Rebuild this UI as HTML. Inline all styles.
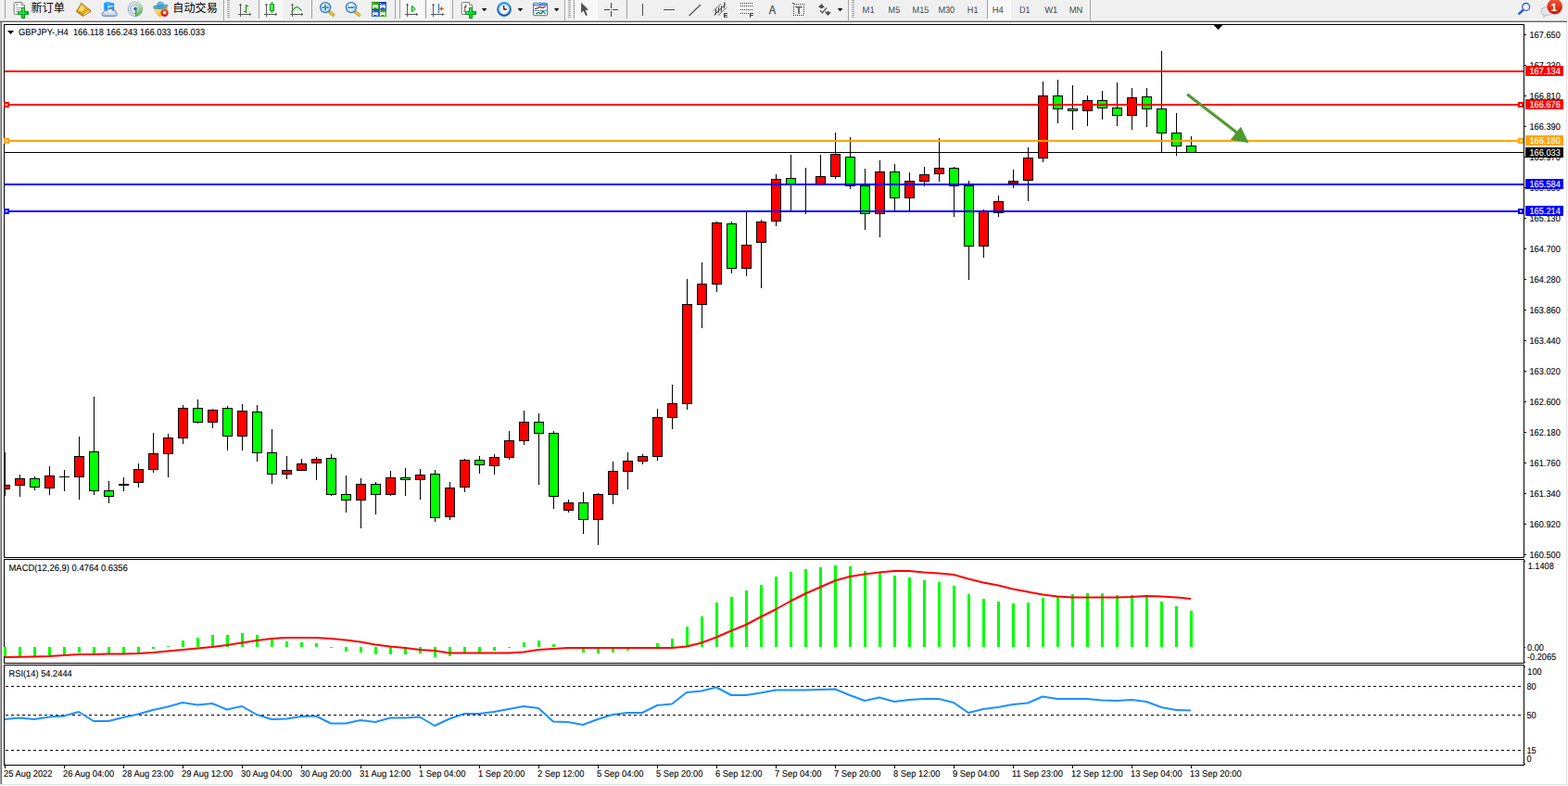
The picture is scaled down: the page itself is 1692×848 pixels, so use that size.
<!DOCTYPE html>
<html><head><meta charset="utf-8"><title>GBPJPY H4</title>
<style>html,body{margin:0;padding:0;background:#f0f0f0;overflow:hidden}svg{display:block}text{font-family:"Liberation Sans",sans-serif;white-space:pre}</style>
</head><body>
<svg width="1692" height="848" viewBox="0 0 1692 848">
<rect x="0" y="0" width="1692" height="848" fill="#f0f0f0" />
<rect x="2" y="24" width="1688" height="822" fill="#fff" />
<rect x="0" y="21" width="1690" height="1" fill="#f8f8f8" />
<rect x="0" y="22" width="1691" height="1" fill="#b4b4b4" />
<rect x="0" y="23" width="1691" height="1" fill="#6a6a6a" />
<rect x="0" y="24" width="1" height="822" fill="#a8a8a8" />
<rect x="1" y="24" width="1" height="822" fill="#696969" />
<rect x="1690" y="24" width="1" height="823" fill="#e3e3e3" />
<rect x="1691" y="22" width="1" height="826" fill="#fafafa" />
<rect x="0" y="846" width="1691" height="1" fill="#e3e3e3" />
<rect x="0" y="847" width="1692" height="1" fill="#fafafa" />
<g shape-rendering="crispEdges">
<rect x="4" y="26" width="1641" height="1" fill="#000" />
<rect x="4" y="601" width="1641" height="1" fill="#000" />
<rect x="4" y="26" width="1" height="576" fill="#000" />
<rect x="1644" y="26" width="1" height="576" fill="#000" />
<rect x="4" y="603" width="1641" height="1" fill="#000" />
<rect x="4" y="715" width="1641" height="1" fill="#000" />
<rect x="4" y="603" width="1" height="113" fill="#000" />
<rect x="1644" y="603" width="1" height="113" fill="#000" />
<rect x="4" y="717" width="1641" height="1" fill="#000" />
<rect x="4" y="825" width="1641" height="1" fill="#000" />
<rect x="4" y="717" width="1" height="109" fill="#000" />
<rect x="1644" y="717" width="1" height="109" fill="#000" />
<rect x="5" y="164" width="1639" height="1" fill="#000" />
<rect x="5" y="488" width="1" height="47" fill="#000" />
<rect x="5" y="523" width="6" height="5" fill="#000" />
<rect x="5" y="524" width="5" height="3" fill="#ff0000" />
<rect x="21" y="512" width="1" height="24" fill="#000" />
<rect x="16" y="516" width="11" height="8" fill="#000" />
<rect x="17" y="517" width="9" height="6" fill="#ff0000" />
<rect x="37" y="514" width="1" height="15" fill="#000" />
<rect x="32" y="516" width="11" height="10" fill="#000" />
<rect x="33" y="517" width="9" height="8" fill="#00ff00" />
<rect x="53" y="503" width="1" height="31" fill="#000" />
<rect x="48" y="513" width="11" height="14" fill="#000" />
<rect x="49" y="514" width="9" height="12" fill="#ff0000" />
<rect x="69" y="507" width="1" height="23" fill="#000" />
<rect x="64" y="514" width="11" height="1" fill="#000" />
<rect x="85" y="471" width="1" height="68" fill="#000" />
<rect x="80" y="492" width="11" height="23" fill="#000" />
<rect x="81" y="493" width="9" height="21" fill="#ff0000" />
<rect x="101" y="428" width="1" height="106" fill="#000" />
<rect x="96" y="487" width="11" height="43" fill="#000" />
<rect x="97" y="488" width="9" height="41" fill="#00ff00" />
<rect x="117" y="519" width="1" height="24" fill="#000" />
<rect x="112" y="529" width="11" height="7" fill="#000" />
<rect x="113" y="530" width="9" height="5" fill="#00ff00" />
<rect x="133" y="515" width="1" height="15" fill="#000" />
<rect x="128" y="522" width="11" height="2" fill="#000" />
<rect x="149" y="500" width="1" height="26" fill="#000" />
<rect x="144" y="506" width="11" height="15" fill="#000" />
<rect x="145" y="507" width="9" height="13" fill="#ff0000" />
<rect x="165" y="467" width="1" height="43" fill="#000" />
<rect x="160" y="489" width="11" height="18" fill="#000" />
<rect x="161" y="490" width="9" height="16" fill="#ff0000" />
<rect x="181" y="468" width="1" height="47" fill="#000" />
<rect x="176" y="472" width="11" height="18" fill="#000" />
<rect x="177" y="473" width="9" height="16" fill="#ff0000" />
<rect x="197" y="437" width="1" height="42" fill="#000" />
<rect x="192" y="440" width="11" height="33" fill="#000" />
<rect x="193" y="441" width="9" height="31" fill="#ff0000" />
<rect x="213" y="431" width="1" height="26" fill="#000" />
<rect x="208" y="440" width="11" height="16" fill="#000" />
<rect x="209" y="441" width="9" height="14" fill="#00ff00" />
<rect x="229" y="441" width="1" height="21" fill="#000" />
<rect x="224" y="442" width="11" height="14" fill="#000" />
<rect x="225" y="443" width="9" height="12" fill="#ff0000" />
<rect x="245" y="438" width="1" height="48" fill="#000" />
<rect x="240" y="440" width="11" height="31" fill="#000" />
<rect x="241" y="441" width="9" height="29" fill="#00ff00" />
<rect x="261" y="436" width="1" height="50" fill="#000" />
<rect x="256" y="443" width="11" height="28" fill="#000" />
<rect x="257" y="444" width="9" height="26" fill="#ff0000" />
<rect x="277" y="437" width="1" height="61" fill="#000" />
<rect x="272" y="444" width="11" height="45" fill="#000" />
<rect x="273" y="445" width="9" height="43" fill="#00ff00" />
<rect x="293" y="463" width="1" height="59" fill="#000" />
<rect x="288" y="488" width="11" height="24" fill="#000" />
<rect x="289" y="489" width="9" height="22" fill="#00ff00" />
<rect x="309" y="492" width="1" height="25" fill="#000" />
<rect x="304" y="507" width="11" height="5" fill="#000" />
<rect x="305" y="508" width="9" height="3" fill="#ff0000" />
<rect x="325" y="495" width="1" height="13" fill="#000" />
<rect x="320" y="500" width="11" height="8" fill="#000" />
<rect x="321" y="501" width="9" height="6" fill="#ff0000" />
<rect x="341" y="493" width="1" height="25" fill="#000" />
<rect x="336" y="495" width="11" height="5" fill="#000" />
<rect x="337" y="496" width="9" height="3" fill="#ff0000" />
<rect x="357" y="490" width="1" height="45" fill="#000" />
<rect x="352" y="494" width="11" height="40" fill="#000" />
<rect x="353" y="495" width="9" height="38" fill="#00ff00" />
<rect x="373" y="513" width="1" height="40" fill="#000" />
<rect x="368" y="533" width="11" height="7" fill="#000" />
<rect x="369" y="534" width="9" height="5" fill="#00ff00" />
<rect x="389" y="516" width="1" height="54" fill="#000" />
<rect x="384" y="522" width="11" height="18" fill="#000" />
<rect x="385" y="523" width="9" height="16" fill="#ff0000" />
<rect x="405" y="520" width="1" height="35" fill="#000" />
<rect x="400" y="522" width="11" height="12" fill="#000" />
<rect x="401" y="523" width="9" height="10" fill="#00ff00" />
<rect x="421" y="508" width="1" height="27" fill="#000" />
<rect x="416" y="515" width="11" height="19" fill="#000" />
<rect x="417" y="516" width="9" height="17" fill="#ff0000" />
<rect x="437" y="505" width="1" height="30" fill="#000" />
<rect x="432" y="515" width="11" height="3" fill="#000" />
<rect x="433" y="516" width="9" height="1" fill="#00ff00" />
<rect x="453" y="506" width="1" height="33" fill="#000" />
<rect x="448" y="512" width="11" height="6" fill="#000" />
<rect x="449" y="513" width="9" height="4" fill="#ff0000" />
<rect x="469" y="507" width="1" height="56" fill="#000" />
<rect x="464" y="511" width="11" height="48" fill="#000" />
<rect x="465" y="512" width="9" height="46" fill="#00ff00" />
<rect x="485" y="520" width="1" height="41" fill="#000" />
<rect x="480" y="526" width="11" height="32" fill="#000" />
<rect x="481" y="527" width="9" height="30" fill="#ff0000" />
<rect x="501" y="495" width="1" height="36" fill="#000" />
<rect x="496" y="496" width="11" height="30" fill="#000" />
<rect x="497" y="497" width="9" height="28" fill="#ff0000" />
<rect x="517" y="492" width="1" height="19" fill="#000" />
<rect x="512" y="496" width="11" height="6" fill="#000" />
<rect x="513" y="497" width="9" height="4" fill="#00ff00" />
<rect x="533" y="490" width="1" height="22" fill="#000" />
<rect x="528" y="493" width="11" height="10" fill="#000" />
<rect x="529" y="494" width="9" height="8" fill="#ff0000" />
<rect x="549" y="465" width="1" height="31" fill="#000" />
<rect x="544" y="475" width="11" height="19" fill="#000" />
<rect x="545" y="476" width="9" height="17" fill="#ff0000" />
<rect x="565" y="443" width="1" height="37" fill="#000" />
<rect x="560" y="455" width="11" height="21" fill="#000" />
<rect x="561" y="456" width="9" height="19" fill="#ff0000" />
<rect x="581" y="446" width="1" height="77" fill="#000" />
<rect x="576" y="455" width="11" height="13" fill="#000" />
<rect x="577" y="456" width="9" height="11" fill="#00ff00" />
<rect x="597" y="465" width="1" height="84" fill="#000" />
<rect x="592" y="467" width="11" height="69" fill="#000" />
<rect x="593" y="468" width="9" height="67" fill="#00ff00" />
<rect x="613" y="539" width="1" height="14" fill="#000" />
<rect x="608" y="542" width="11" height="9" fill="#000" />
<rect x="609" y="543" width="9" height="7" fill="#ff0000" />
<rect x="629" y="531" width="1" height="45" fill="#000" />
<rect x="624" y="542" width="11" height="19" fill="#000" />
<rect x="625" y="543" width="9" height="17" fill="#00ff00" />
<rect x="645" y="532" width="1" height="56" fill="#000" />
<rect x="640" y="533" width="11" height="28" fill="#000" />
<rect x="641" y="534" width="9" height="26" fill="#ff0000" />
<rect x="661" y="498" width="1" height="46" fill="#000" />
<rect x="656" y="508" width="11" height="26" fill="#000" />
<rect x="657" y="509" width="9" height="24" fill="#ff0000" />
<rect x="677" y="488" width="1" height="40" fill="#000" />
<rect x="672" y="497" width="11" height="12" fill="#000" />
<rect x="673" y="498" width="9" height="10" fill="#ff0000" />
<rect x="693" y="490" width="1" height="11" fill="#000" />
<rect x="688" y="492" width="11" height="6" fill="#000" />
<rect x="689" y="493" width="9" height="4" fill="#ff0000" />
<rect x="709" y="441" width="1" height="56" fill="#000" />
<rect x="704" y="450" width="11" height="43" fill="#000" />
<rect x="705" y="451" width="9" height="41" fill="#ff0000" />
<rect x="725" y="415" width="1" height="48" fill="#000" />
<rect x="720" y="435" width="11" height="16" fill="#000" />
<rect x="721" y="436" width="9" height="14" fill="#ff0000" />
<rect x="741" y="301" width="1" height="141" fill="#000" />
<rect x="736" y="328" width="11" height="108" fill="#000" />
<rect x="737" y="329" width="9" height="106" fill="#ff0000" />
<rect x="757" y="283" width="1" height="71" fill="#000" />
<rect x="752" y="306" width="11" height="23" fill="#000" />
<rect x="753" y="307" width="9" height="21" fill="#ff0000" />
<rect x="773" y="239" width="1" height="76" fill="#000" />
<rect x="768" y="240" width="11" height="67" fill="#000" />
<rect x="769" y="241" width="9" height="65" fill="#ff0000" />
<rect x="789" y="239" width="1" height="56" fill="#000" />
<rect x="784" y="241" width="11" height="49" fill="#000" />
<rect x="785" y="242" width="9" height="47" fill="#00ff00" />
<rect x="805" y="229" width="1" height="69" fill="#000" />
<rect x="800" y="264" width="11" height="26" fill="#000" />
<rect x="801" y="265" width="9" height="24" fill="#ff0000" />
<rect x="821" y="237" width="1" height="74" fill="#000" />
<rect x="816" y="239" width="11" height="23" fill="#000" />
<rect x="817" y="240" width="9" height="21" fill="#ff0000" />
<rect x="837" y="188" width="1" height="56" fill="#000" />
<rect x="832" y="193" width="11" height="46" fill="#000" />
<rect x="833" y="194" width="9" height="44" fill="#ff0000" />
<rect x="853" y="167" width="1" height="61" fill="#000" />
<rect x="848" y="192" width="11" height="8" fill="#000" />
<rect x="849" y="193" width="9" height="6" fill="#00ff00" />
<rect x="869" y="181" width="1" height="50" fill="#000" />
<rect x="864" y="198" width="11" height="1" fill="#000" />
<rect x="885" y="167" width="1" height="32" fill="#000" />
<rect x="880" y="190" width="11" height="10" fill="#000" />
<rect x="881" y="191" width="9" height="8" fill="#ff0000" />
<rect x="901" y="143" width="1" height="50" fill="#000" />
<rect x="896" y="166" width="11" height="25" fill="#000" />
<rect x="897" y="167" width="9" height="23" fill="#ff0000" />
<rect x="917" y="148" width="1" height="56" fill="#000" />
<rect x="912" y="169" width="11" height="32" fill="#000" />
<rect x="913" y="170" width="9" height="30" fill="#00ff00" />
<rect x="933" y="182" width="1" height="66" fill="#000" />
<rect x="928" y="200" width="11" height="31" fill="#000" />
<rect x="929" y="201" width="9" height="29" fill="#00ff00" />
<rect x="949" y="173" width="1" height="83" fill="#000" />
<rect x="944" y="185" width="11" height="46" fill="#000" />
<rect x="945" y="186" width="9" height="44" fill="#ff0000" />
<rect x="965" y="177" width="1" height="51" fill="#000" />
<rect x="960" y="185" width="11" height="29" fill="#000" />
<rect x="961" y="186" width="9" height="27" fill="#00ff00" />
<rect x="981" y="186" width="1" height="42" fill="#000" />
<rect x="976" y="195" width="11" height="19" fill="#000" />
<rect x="977" y="196" width="9" height="17" fill="#ff0000" />
<rect x="997" y="180" width="1" height="21" fill="#000" />
<rect x="992" y="188" width="11" height="8" fill="#000" />
<rect x="993" y="189" width="9" height="6" fill="#ff0000" />
<rect x="1013" y="149" width="1" height="47" fill="#000" />
<rect x="1008" y="181" width="11" height="7" fill="#000" />
<rect x="1009" y="182" width="9" height="5" fill="#ff0000" />
<rect x="1029" y="180" width="1" height="54" fill="#000" />
<rect x="1024" y="181" width="11" height="20" fill="#000" />
<rect x="1025" y="182" width="9" height="18" fill="#00ff00" />
<rect x="1045" y="195" width="1" height="107" fill="#000" />
<rect x="1040" y="200" width="11" height="66" fill="#000" />
<rect x="1041" y="201" width="9" height="64" fill="#00ff00" />
<rect x="1061" y="226" width="1" height="52" fill="#000" />
<rect x="1056" y="228" width="11" height="38" fill="#000" />
<rect x="1057" y="229" width="9" height="36" fill="#ff0000" />
<rect x="1077" y="211" width="1" height="23" fill="#000" />
<rect x="1072" y="217" width="11" height="13" fill="#000" />
<rect x="1073" y="218" width="9" height="11" fill="#ff0000" />
<rect x="1093" y="183" width="1" height="20" fill="#000" />
<rect x="1088" y="195" width="11" height="3" fill="#000" />
<rect x="1089" y="196" width="9" height="1" fill="#ff0000" />
<rect x="1109" y="159" width="1" height="58" fill="#000" />
<rect x="1104" y="170" width="11" height="25" fill="#000" />
<rect x="1105" y="171" width="9" height="23" fill="#ff0000" />
<rect x="1125" y="88" width="1" height="87" fill="#000" />
<rect x="1120" y="103" width="11" height="68" fill="#000" />
<rect x="1121" y="104" width="9" height="66" fill="#ff0000" />
<rect x="1141" y="86" width="1" height="47" fill="#000" />
<rect x="1136" y="103" width="11" height="15" fill="#000" />
<rect x="1137" y="104" width="9" height="13" fill="#00ff00" />
<rect x="1157" y="92" width="1" height="48" fill="#000" />
<rect x="1152" y="117" width="11" height="3" fill="#000" />
<rect x="1153" y="118" width="9" height="1" fill="#00ff00" />
<rect x="1173" y="103" width="1" height="33" fill="#000" />
<rect x="1168" y="108" width="11" height="12" fill="#000" />
<rect x="1169" y="109" width="9" height="10" fill="#ff0000" />
<rect x="1189" y="98" width="1" height="31" fill="#000" />
<rect x="1184" y="108" width="11" height="9" fill="#000" />
<rect x="1185" y="109" width="9" height="7" fill="#00ff00" />
<rect x="1205" y="89" width="1" height="47" fill="#000" />
<rect x="1200" y="116" width="11" height="9" fill="#000" />
<rect x="1201" y="117" width="9" height="7" fill="#00ff00" />
<rect x="1221" y="95" width="1" height="45" fill="#000" />
<rect x="1216" y="105" width="11" height="20" fill="#000" />
<rect x="1217" y="106" width="9" height="18" fill="#ff0000" />
<rect x="1237" y="95" width="1" height="42" fill="#000" />
<rect x="1232" y="104" width="11" height="14" fill="#000" />
<rect x="1233" y="105" width="9" height="12" fill="#00ff00" />
<rect x="1253" y="55" width="1" height="109" fill="#000" />
<rect x="1248" y="117" width="11" height="27" fill="#000" />
<rect x="1249" y="118" width="9" height="25" fill="#00ff00" />
<rect x="1269" y="122" width="1" height="46" fill="#000" />
<rect x="1264" y="143" width="11" height="15" fill="#000" />
<rect x="1265" y="144" width="9" height="13" fill="#00ff00" />
<rect x="1285" y="147" width="1" height="17" fill="#000" />
<rect x="1280" y="157" width="11" height="8" fill="#000" />
<rect x="1281" y="158" width="9" height="6" fill="#00ff00" />
<rect x="5" y="76" width="1639" height="2" fill="#ff0000" />
<rect x="5" y="112" width="1639" height="2" fill="#ff0000" />
<rect x="4" y="110" width="6" height="6" fill="#ff0000" />
<rect x="6" y="112" width="2" height="2" fill="#fff" />
<rect x="1638" y="110" width="6" height="6" fill="#ff0000" />
<rect x="1640" y="112" width="2" height="2" fill="#fff" />
<rect x="5" y="151" width="1639" height="2" fill="#ffa500" />
<rect x="4" y="149" width="6" height="6" fill="#ffa500" />
<rect x="6" y="151" width="2" height="2" fill="#fff" />
<rect x="1638" y="149" width="6" height="6" fill="#ffa500" />
<rect x="1640" y="151" width="2" height="2" fill="#fff" />
<rect x="5" y="198" width="1639" height="2" fill="#0000ff" />
<rect x="5" y="227" width="1639" height="2" fill="#0000ff" />
<rect x="4" y="225" width="6" height="6" fill="#0000ff" />
<rect x="6" y="227" width="2" height="2" fill="#fff" />
<rect x="1638" y="225" width="6" height="6" fill="#0000ff" />
<rect x="1640" y="227" width="2" height="2" fill="#fff" />
<path d="M1310 27h9v1h-1v1h-1v1h-1v1h-1v1h-1v-1h-1v-1h-1v-1h-1v-1h-1z" fill="#000"/>
<rect x="1645" y="37" width="2" height="1" fill="#000" />
<rect x="1645" y="70" width="2" height="1" fill="#000" />
<rect x="1645" y="103" width="2" height="1" fill="#000" />
<rect x="1645" y="136" width="2" height="1" fill="#000" />
<rect x="1645" y="169" width="2" height="1" fill="#000" />
<rect x="1645" y="202" width="2" height="1" fill="#000" />
<rect x="1645" y="235" width="2" height="1" fill="#000" />
<rect x="1645" y="268" width="2" height="1" fill="#000" />
<rect x="1645" y="301" width="2" height="1" fill="#000" />
<rect x="1645" y="334" width="2" height="1" fill="#000" />
<rect x="1645" y="367" width="2" height="1" fill="#000" />
<rect x="1645" y="400" width="2" height="1" fill="#000" />
<rect x="1645" y="433" width="2" height="1" fill="#000" />
<rect x="1645" y="466" width="2" height="1" fill="#000" />
<rect x="1645" y="499" width="2" height="1" fill="#000" />
<rect x="1645" y="532" width="2" height="1" fill="#000" />
<rect x="1645" y="565" width="2" height="1" fill="#000" />
<rect x="1645" y="598" width="2" height="1" fill="#000" />
</g>
<g fill="#4e9a2e" stroke="none"><path d="M1280.2 103 L1282 100.6 L1336.5 142.6 L1334.7 145 Z"/><path d="M1347.5 154.2 L1339 136.8 L1327.8 150.8 Z"/></g>
<g font-family="Liberation Sans, sans-serif">
<text transform="translate(1650.5 41) scale(0.92 1)" font-size="10" fill="#000" stroke="#000" stroke-width="0.1" text-rendering="geometricPrecision" >167.650</text>
<text transform="translate(1650.5 74) scale(0.92 1)" font-size="10" fill="#000" stroke="#000" stroke-width="0.1" text-rendering="geometricPrecision" >167.230</text>
<text transform="translate(1650.5 107) scale(0.92 1)" font-size="10" fill="#000" stroke="#000" stroke-width="0.1" text-rendering="geometricPrecision" >166.810</text>
<text transform="translate(1650.5 140) scale(0.92 1)" font-size="10" fill="#000" stroke="#000" stroke-width="0.1" text-rendering="geometricPrecision" >166.390</text>
<text transform="translate(1650.5 173) scale(0.92 1)" font-size="10" fill="#000" stroke="#000" stroke-width="0.1" text-rendering="geometricPrecision" >165.970</text>
<text transform="translate(1650.5 206) scale(0.92 1)" font-size="10" fill="#000" stroke="#000" stroke-width="0.1" text-rendering="geometricPrecision" >165.550</text>
<text transform="translate(1650.5 239) scale(0.92 1)" font-size="10" fill="#000" stroke="#000" stroke-width="0.1" text-rendering="geometricPrecision" >165.130</text>
<text transform="translate(1650.5 272) scale(0.92 1)" font-size="10" fill="#000" stroke="#000" stroke-width="0.1" text-rendering="geometricPrecision" >164.700</text>
<text transform="translate(1650.5 305) scale(0.92 1)" font-size="10" fill="#000" stroke="#000" stroke-width="0.1" text-rendering="geometricPrecision" >164.280</text>
<text transform="translate(1650.5 338) scale(0.92 1)" font-size="10" fill="#000" stroke="#000" stroke-width="0.1" text-rendering="geometricPrecision" >163.860</text>
<text transform="translate(1650.5 371) scale(0.92 1)" font-size="10" fill="#000" stroke="#000" stroke-width="0.1" text-rendering="geometricPrecision" >163.440</text>
<text transform="translate(1650.5 404) scale(0.92 1)" font-size="10" fill="#000" stroke="#000" stroke-width="0.1" text-rendering="geometricPrecision" >163.020</text>
<text transform="translate(1650.5 437) scale(0.92 1)" font-size="10" fill="#000" stroke="#000" stroke-width="0.1" text-rendering="geometricPrecision" >162.600</text>
<text transform="translate(1650.5 470) scale(0.92 1)" font-size="10" fill="#000" stroke="#000" stroke-width="0.1" text-rendering="geometricPrecision" >162.180</text>
<text transform="translate(1650.5 503) scale(0.92 1)" font-size="10" fill="#000" stroke="#000" stroke-width="0.1" text-rendering="geometricPrecision" >161.760</text>
<text transform="translate(1650.5 536) scale(0.92 1)" font-size="10" fill="#000" stroke="#000" stroke-width="0.1" text-rendering="geometricPrecision" >161.340</text>
<text transform="translate(1650.5 569) scale(0.92 1)" font-size="10" fill="#000" stroke="#000" stroke-width="0.1" text-rendering="geometricPrecision" >160.920</text>
<text transform="translate(1650.5 602) scale(0.92 1)" font-size="10" fill="#000" stroke="#000" stroke-width="0.1" text-rendering="geometricPrecision" >160.500</text>
<rect x="1646" y="71" width="41" height="11" fill="#ff0000" shape-rendering="crispEdges"/>
<text transform="translate(1650.5 80) scale(0.92 1)" font-size="10" fill="#fff" stroke="#fff" stroke-width="0.1" text-rendering="geometricPrecision" >167.134</text>
<rect x="1646" y="107" width="41" height="11" fill="#ff0000" shape-rendering="crispEdges"/>
<text transform="translate(1650.5 116) scale(0.92 1)" font-size="10" fill="#fff" stroke="#fff" stroke-width="0.1" text-rendering="geometricPrecision" >166.676</text>
<rect x="1646" y="146" width="41" height="11" fill="#ffa500" shape-rendering="crispEdges"/>
<text transform="translate(1650.5 155) scale(0.92 1)" font-size="10" fill="#fff" stroke="#fff" stroke-width="0.1" text-rendering="geometricPrecision" >166.180</text>
<rect x="1646" y="159" width="41" height="11" fill="#000" shape-rendering="crispEdges"/>
<text transform="translate(1650.5 168) scale(0.92 1)" font-size="10" fill="#fff" stroke="#fff" stroke-width="0.1" text-rendering="geometricPrecision" >166.033</text>
<rect x="1646" y="193" width="41" height="11" fill="#0000ff" shape-rendering="crispEdges"/>
<text transform="translate(1650.5 202) scale(0.92 1)" font-size="10" fill="#fff" stroke="#fff" stroke-width="0.1" text-rendering="geometricPrecision" >165.584</text>
<rect x="1646" y="222" width="41" height="11" fill="#0000ff" shape-rendering="crispEdges"/>
<text transform="translate(1650.5 231) scale(0.92 1)" font-size="10" fill="#fff" stroke="#fff" stroke-width="0.1" text-rendering="geometricPrecision" >165.214</text>
<path d="M8 33h7l-3.5 4z" fill="#000"/>
<text transform="translate(20 38) scale(0.935 1)" font-size="10" fill="#000" stroke="#000" stroke-width="0.1" text-rendering="geometricPrecision" >GBPJPY-,H4&#160; 166.118 166.243 166.033 166.033</text>
<text transform="translate(9.5 616) scale(0.942 1)" font-size="10" fill="#000" stroke="#000" stroke-width="0.1" text-rendering="geometricPrecision" >MACD(12,26,9) 0.4764 0.6356</text>
<text transform="translate(9.5 730) scale(0.93 1)" font-size="10" fill="#000" stroke="#000" stroke-width="0.1" text-rendering="geometricPrecision" >RSI(14) 54.2444</text>
<text transform="translate(1648.7 614) scale(0.92 1)" font-size="10" fill="#000" stroke="#000" stroke-width="0.1" text-rendering="geometricPrecision" >1.1408</text>
<text transform="translate(1648 702) scale(0.92 1)" font-size="10" fill="#000" stroke="#000" stroke-width="0.1" text-rendering="geometricPrecision" >0.00</text>
<text transform="translate(1648 712) scale(0.92 1)" font-size="10" fill="#000" stroke="#000" stroke-width="0.1" text-rendering="geometricPrecision" >-0.2065</text>
<text transform="translate(1648.3 728) scale(0.92 1)" font-size="10" fill="#000" stroke="#000" stroke-width="0.1" text-rendering="geometricPrecision" >100</text>
<text transform="translate(1647.5 744) scale(0.92 1)" font-size="10" fill="#000" stroke="#000" stroke-width="0.1" text-rendering="geometricPrecision" >80</text>
<text transform="translate(1647.5 775) scale(0.92 1)" font-size="10" fill="#000" stroke="#000" stroke-width="0.1" text-rendering="geometricPrecision" >50</text>
<text transform="translate(1647.5 813) scale(0.92 1)" font-size="10" fill="#000" stroke="#000" stroke-width="0.1" text-rendering="geometricPrecision" >15</text>
<text transform="translate(1647.5 822) scale(0.92 1)" font-size="10" fill="#000" stroke="#000" stroke-width="0.1" text-rendering="geometricPrecision" >0</text>
<text transform="translate(4 838) scale(0.935 1)" font-size="10" fill="#000" stroke="#000" stroke-width="0.1" text-rendering="geometricPrecision" >25 Aug 2022</text>
<text transform="translate(68 838) scale(0.935 1)" font-size="10" fill="#000" stroke="#000" stroke-width="0.1" text-rendering="geometricPrecision" >26 Aug 04:00</text>
<text transform="translate(132 838) scale(0.935 1)" font-size="10" fill="#000" stroke="#000" stroke-width="0.1" text-rendering="geometricPrecision" >28 Aug 23:00</text>
<text transform="translate(196 838) scale(0.935 1)" font-size="10" fill="#000" stroke="#000" stroke-width="0.1" text-rendering="geometricPrecision" >29 Aug 12:00</text>
<text transform="translate(260 838) scale(0.935 1)" font-size="10" fill="#000" stroke="#000" stroke-width="0.1" text-rendering="geometricPrecision" >30 Aug 04:00</text>
<text transform="translate(324 838) scale(0.935 1)" font-size="10" fill="#000" stroke="#000" stroke-width="0.1" text-rendering="geometricPrecision" >30 Aug 20:00</text>
<text transform="translate(388 838) scale(0.935 1)" font-size="10" fill="#000" stroke="#000" stroke-width="0.1" text-rendering="geometricPrecision" >31 Aug 12:00</text>
<text transform="translate(452 838) scale(0.935 1)" font-size="10" fill="#000" stroke="#000" stroke-width="0.1" text-rendering="geometricPrecision" >1 Sep 04:00</text>
<text transform="translate(516 838) scale(0.935 1)" font-size="10" fill="#000" stroke="#000" stroke-width="0.1" text-rendering="geometricPrecision" >1 Sep 20:00</text>
<text transform="translate(580 838) scale(0.935 1)" font-size="10" fill="#000" stroke="#000" stroke-width="0.1" text-rendering="geometricPrecision" >2 Sep 12:00</text>
<text transform="translate(644 838) scale(0.935 1)" font-size="10" fill="#000" stroke="#000" stroke-width="0.1" text-rendering="geometricPrecision" >5 Sep 04:00</text>
<text transform="translate(708 838) scale(0.935 1)" font-size="10" fill="#000" stroke="#000" stroke-width="0.1" text-rendering="geometricPrecision" >5 Sep 20:00</text>
<text transform="translate(772 838) scale(0.935 1)" font-size="10" fill="#000" stroke="#000" stroke-width="0.1" text-rendering="geometricPrecision" >6 Sep 12:00</text>
<text transform="translate(836 838) scale(0.935 1)" font-size="10" fill="#000" stroke="#000" stroke-width="0.1" text-rendering="geometricPrecision" >7 Sep 04:00</text>
<text transform="translate(900 838) scale(0.935 1)" font-size="10" fill="#000" stroke="#000" stroke-width="0.1" text-rendering="geometricPrecision" >7 Sep 20:00</text>
<text transform="translate(964 838) scale(0.935 1)" font-size="10" fill="#000" stroke="#000" stroke-width="0.1" text-rendering="geometricPrecision" >8 Sep 12:00</text>
<text transform="translate(1028 838) scale(0.935 1)" font-size="10" fill="#000" stroke="#000" stroke-width="0.1" text-rendering="geometricPrecision" >9 Sep 04:00</text>
<text transform="translate(1092 838) scale(0.935 1)" font-size="10" fill="#000" stroke="#000" stroke-width="0.1" text-rendering="geometricPrecision" >11 Sep 23:00</text>
<text transform="translate(1156 838) scale(0.935 1)" font-size="10" fill="#000" stroke="#000" stroke-width="0.1" text-rendering="geometricPrecision" >12 Sep 12:00</text>
<text transform="translate(1220 838) scale(0.935 1)" font-size="10" fill="#000" stroke="#000" stroke-width="0.1" text-rendering="geometricPrecision" >13 Sep 04:00</text>
<text transform="translate(1284 838) scale(0.935 1)" font-size="10" fill="#000" stroke="#000" stroke-width="0.1" text-rendering="geometricPrecision" >13 Sep 20:00</text>
</g>
<g shape-rendering="crispEdges">
<rect x="4" y="698" width="3" height="10" fill="#00ff00" />
<rect x="20" y="698" width="3" height="10" fill="#00ff00" />
<rect x="36" y="698" width="3" height="10" fill="#00ff00" />
<rect x="52" y="698" width="3" height="9" fill="#00ff00" />
<rect x="68" y="698" width="3" height="8" fill="#00ff00" />
<rect x="84" y="698" width="3" height="6" fill="#00ff00" />
<rect x="100" y="698" width="3" height="7" fill="#00ff00" />
<rect x="116" y="698" width="3" height="7" fill="#00ff00" />
<rect x="132" y="698" width="3" height="7" fill="#00ff00" />
<rect x="148" y="698" width="3" height="6" fill="#00ff00" />
<rect x="164" y="698" width="3" height="2" fill="#00ff00" />
<rect x="180" y="697" width="3" height="1" fill="#00ff00" />
<rect x="196" y="691" width="3" height="7" fill="#00ff00" />
<rect x="212" y="688" width="3" height="10" fill="#00ff00" />
<rect x="228" y="685" width="3" height="13" fill="#00ff00" />
<rect x="244" y="685" width="3" height="13" fill="#00ff00" />
<rect x="260" y="683" width="3" height="15" fill="#00ff00" />
<rect x="276" y="685" width="3" height="13" fill="#00ff00" />
<rect x="292" y="690" width="3" height="8" fill="#00ff00" />
<rect x="308" y="692" width="3" height="6" fill="#00ff00" />
<rect x="324" y="693" width="3" height="5" fill="#00ff00" />
<rect x="340" y="694" width="3" height="4" fill="#00ff00" />
<rect x="356" y="698" width="3" height="1" fill="#00ff00" />
<rect x="372" y="698" width="3" height="5" fill="#00ff00" />
<rect x="388" y="698" width="3" height="6" fill="#00ff00" />
<rect x="404" y="698" width="3" height="8" fill="#00ff00" />
<rect x="420" y="698" width="3" height="8" fill="#00ff00" />
<rect x="436" y="698" width="3" height="8" fill="#00ff00" />
<rect x="452" y="698" width="3" height="7" fill="#00ff00" />
<rect x="468" y="698" width="3" height="11" fill="#00ff00" />
<rect x="484" y="698" width="3" height="10" fill="#00ff00" />
<rect x="500" y="698" width="3" height="6" fill="#00ff00" />
<rect x="516" y="698" width="3" height="6" fill="#00ff00" />
<rect x="532" y="698" width="3" height="4" fill="#00ff00" />
<rect x="548" y="698" width="3" height="1" fill="#00ff00" />
<rect x="564" y="693" width="3" height="5" fill="#00ff00" />
<rect x="580" y="691" width="3" height="7" fill="#00ff00" />
<rect x="596" y="695" width="3" height="3" fill="#00ff00" />
<rect x="612" y="698" width="3" height="1" fill="#00ff00" />
<rect x="628" y="698" width="3" height="6" fill="#00ff00" />
<rect x="644" y="698" width="3" height="7" fill="#00ff00" />
<rect x="660" y="698" width="3" height="6" fill="#00ff00" />
<rect x="676" y="698" width="3" height="4" fill="#00ff00" />
<rect x="692" y="698" width="3" height="1" fill="#00ff00" />
<rect x="708" y="694" width="3" height="4" fill="#00ff00" />
<rect x="724" y="689" width="3" height="9" fill="#00ff00" />
<rect x="740" y="676" width="3" height="22" fill="#00ff00" />
<rect x="756" y="665" width="3" height="33" fill="#00ff00" />
<rect x="772" y="650" width="3" height="48" fill="#00ff00" />
<rect x="788" y="644" width="3" height="54" fill="#00ff00" />
<rect x="804" y="637" width="3" height="61" fill="#00ff00" />
<rect x="820" y="631" width="3" height="67" fill="#00ff00" />
<rect x="836" y="622" width="3" height="76" fill="#00ff00" />
<rect x="852" y="617" width="3" height="81" fill="#00ff00" />
<rect x="868" y="614" width="3" height="84" fill="#00ff00" />
<rect x="884" y="612" width="3" height="86" fill="#00ff00" />
<rect x="900" y="610" width="3" height="88" fill="#00ff00" />
<rect x="916" y="611" width="3" height="87" fill="#00ff00" />
<rect x="932" y="616" width="3" height="82" fill="#00ff00" />
<rect x="948" y="618" width="3" height="80" fill="#00ff00" />
<rect x="964" y="621" width="3" height="77" fill="#00ff00" />
<rect x="980" y="623" width="3" height="75" fill="#00ff00" />
<rect x="996" y="626" width="3" height="72" fill="#00ff00" />
<rect x="1012" y="628" width="3" height="70" fill="#00ff00" />
<rect x="1028" y="632" width="3" height="66" fill="#00ff00" />
<rect x="1044" y="641" width="3" height="57" fill="#00ff00" />
<rect x="1060" y="646" width="3" height="52" fill="#00ff00" />
<rect x="1076" y="649" width="3" height="49" fill="#00ff00" />
<rect x="1092" y="651" width="3" height="47" fill="#00ff00" />
<rect x="1108" y="650" width="3" height="48" fill="#00ff00" />
<rect x="1124" y="645" width="3" height="53" fill="#00ff00" />
<rect x="1140" y="643" width="3" height="55" fill="#00ff00" />
<rect x="1156" y="641" width="3" height="57" fill="#00ff00" />
<rect x="1172" y="640" width="3" height="58" fill="#00ff00" />
<rect x="1188" y="640" width="3" height="58" fill="#00ff00" />
<rect x="1204" y="642" width="3" height="56" fill="#00ff00" />
<rect x="1220" y="642" width="3" height="56" fill="#00ff00" />
<rect x="1236" y="644" width="3" height="54" fill="#00ff00" />
<rect x="1252" y="649" width="3" height="49" fill="#00ff00" />
<rect x="1268" y="654" width="3" height="44" fill="#00ff00" />
<rect x="1284" y="659" width="3" height="39" fill="#00ff00" />
<rect x="1645" y="605" width="1" height="1" fill="#000" />
<rect x="1645" y="698" width="1" height="1" fill="#000" />
<rect x="1645" y="714" width="1" height="1" fill="#000" />
<rect x="1645" y="719" width="1" height="1" fill="#000" />
<rect x="1645" y="824" width="1" height="1" fill="#000" />
<rect x="5" y="826" width="1" height="3" fill="#000" />
<rect x="69" y="826" width="1" height="3" fill="#000" />
<rect x="133" y="826" width="1" height="3" fill="#000" />
<rect x="197" y="826" width="1" height="3" fill="#000" />
<rect x="261" y="826" width="1" height="3" fill="#000" />
<rect x="325" y="826" width="1" height="3" fill="#000" />
<rect x="389" y="826" width="1" height="3" fill="#000" />
<rect x="453" y="826" width="1" height="3" fill="#000" />
<rect x="517" y="826" width="1" height="3" fill="#000" />
<rect x="581" y="826" width="1" height="3" fill="#000" />
<rect x="645" y="826" width="1" height="3" fill="#000" />
<rect x="709" y="826" width="1" height="3" fill="#000" />
<rect x="773" y="826" width="1" height="3" fill="#000" />
<rect x="837" y="826" width="1" height="3" fill="#000" />
<rect x="901" y="826" width="1" height="3" fill="#000" />
<rect x="965" y="826" width="1" height="3" fill="#000" />
<rect x="1029" y="826" width="1" height="3" fill="#000" />
<rect x="1093" y="826" width="1" height="3" fill="#000" />
<rect x="1157" y="826" width="1" height="3" fill="#000" />
<rect x="1221" y="826" width="1" height="3" fill="#000" />
<rect x="1285" y="826" width="1" height="3" fill="#000" />
</g>
<polyline points="5,709 21,708.7 37,708.5 53,708 69,707 85,706 101,706 117,705.5 133,705.5 149,705 165,704 181,702.5 197,701 213,699.5 229,698 245,696 261,693.5 277,691 293,689 309,688 325,688 341,688 357,689 373,690.5 389,692.5 405,695.5 421,697.5 437,699 453,701 469,702 485,704.5 501,704.5 517,704.5 533,704.5 549,704.5 565,703.5 581,701 597,700 613,699 629,699 645,699 661,699 677,699 693,699 709,699 725,699 741,697.5 757,693.5 773,687.5 789,680.5 805,674 821,665.5 837,657.5 853,648.5 869,640.5 885,633.5 901,626.5 917,622 933,619.5 949,617.5 965,616 981,616 997,617.5 1013,618.5 1029,620 1045,624.5 1061,628.5 1077,631.5 1093,635.5 1109,638.5 1125,641.5 1141,643.5 1157,644.5 1173,644.5 1189,644.5 1205,644.5 1221,644 1237,643 1253,643.5 1269,644.5 1285,646" fill="none" stroke="#ff0000" stroke-width="2" stroke-linejoin="round"/>
<line x1="6" y1="740.5" x2="1643" y2="740.5" stroke="#000" stroke-width="1" stroke-dasharray="3 3" shape-rendering="crispEdges"/>
<line x1="6" y1="771.5" x2="1643" y2="771.5" stroke="#000" stroke-width="1" stroke-dasharray="3 3" shape-rendering="crispEdges"/>
<line x1="6" y1="809.5" x2="1643" y2="809.5" stroke="#000" stroke-width="1" stroke-dasharray="3 3" shape-rendering="crispEdges"/>
<polyline points="5,776 21,774.5 37,776 53,773.5 69,772.5 85,768 101,778 117,778 133,774 149,770.5 165,766 181,762.5 197,758 213,760.5 229,759 245,765.5 261,762 277,771 293,776 309,775.5 325,773 341,772.5 357,780.5 373,780.5 389,777 405,779 421,774.5 437,774.5 453,773.5 469,783 485,775.5 501,770 517,770 533,768 549,765 565,762 581,764 597,778.5 613,779 629,782 645,776 661,771 677,769 693,769 709,761 725,759.5 741,747 757,745.5 773,741.5 789,750 805,750 821,747.5 837,744.5 853,744.5 869,744.5 885,744 901,743.5 917,750 933,756 949,752.5 965,757 981,755 997,754 1013,754 1029,758 1045,769 1061,765 1077,763 1093,760 1109,758.5 1125,751.5 1141,754 1157,754 1173,754 1189,755.5 1205,756 1221,755 1237,757 1253,763 1269,766 1285,766.5" fill="none" stroke="#1e90ff" stroke-width="2" stroke-linejoin="round"/>
<defs>
<linearGradient id="gPlus" x1="0" y1="0" x2="1" y2="1"><stop offset="0" stop-color="#7dff7d"/><stop offset="0.5" stop-color="#10e030"/><stop offset="1" stop-color="#00b818"/></linearGradient>
<linearGradient id="gGold" x1="0" y1="0" x2="1" y2="1"><stop offset="0" stop-color="#f6e27a"/><stop offset="0.5" stop-color="#eab818"/><stop offset="1" stop-color="#d09a18"/></linearGradient>
<linearGradient id="gCloud" x1="0" y1="0" x2="0" y2="1"><stop offset="0" stop-color="#ffffff"/><stop offset="1" stop-color="#b8c8e0"/></linearGradient>
<linearGradient id="gBlueBox" x1="0" y1="0" x2="1" y2="0"><stop offset="0" stop-color="#0aa0ff"/><stop offset="0.35" stop-color="#0a86f0"/><stop offset="0.36" stop-color="#3aa8ff"/><stop offset="1" stop-color="#1e90ff"/></linearGradient>
<linearGradient id="gRed" x1="0" y1="0" x2="0" y2="1"><stop offset="0" stop-color="#e85838"/><stop offset="1" stop-color="#d81400"/></linearGradient>
<linearGradient id="gYel" x1="0" y1="0" x2="1" y2="1"><stop offset="0" stop-color="#fff080"/><stop offset="1" stop-color="#e0a818"/></linearGradient>
<linearGradient id="gHat" x1="0" y1="0" x2="0" y2="1"><stop offset="0" stop-color="#7cc8f0"/><stop offset="1" stop-color="#3c98d0"/></linearGradient>
<radialGradient id="gLens" cx="0.4" cy="0.35" r="0.7"><stop offset="0" stop-color="#f0fbff"/><stop offset="1" stop-color="#b8e0f4"/></radialGradient>
<linearGradient id="gClock" x1="0" y1="0" x2="0" y2="1"><stop offset="0" stop-color="#2a98f0"/><stop offset="1" stop-color="#0858b8"/></linearGradient>
<linearGradient id="gCandle" x1="0" y1="0" x2="1" y2="0"><stop offset="0" stop-color="#90ff90"/><stop offset="1" stop-color="#20e040"/></linearGradient>
<linearGradient id="gTitle" x1="0" y1="0" x2="0" y2="1"><stop offset="0" stop-color="#6eaaea"/><stop offset="1" stop-color="#2a6cc0"/></linearGradient>
<linearGradient id="gSig" x1="0.3" y1="0" x2="0.7" y2="1"><stop offset="0" stop-color="#d4e8d4" stop-opacity="0.7"/><stop offset="0.5" stop-color="#9cd09c" stop-opacity="0.8"/><stop offset="1" stop-color="#3ca03c"/></linearGradient>
</defs>
<g shape-rendering="crispEdges">
<rect x="5" y="0" width="1" height="20" fill="#a0a0a0" />
<rect x="279" y="0" width="1" height="20" fill="#a0a0a0" />
<rect x="336" y="0" width="1" height="20" fill="#a0a0a0" />
<rect x="426" y="0" width="1" height="20" fill="#a0a0a0" />
<rect x="431" y="0" width="1" height="20" fill="#a0a0a0" />
<rect x="459" y="0" width="1" height="20" fill="#a0a0a0" />
<rect x="488" y="0" width="1" height="20" fill="#a0a0a0" />
<rect x="619" y="0" width="1" height="20" fill="#a0a0a0" />
<rect x="676" y="0" width="1" height="20" fill="#a0a0a0" />
<rect x="241" y="0" width="1" height="22" fill="#a0a0a0" />
<rect x="242" y="0" width="1" height="21" fill="#fafafa" />
<rect x="609" y="0" width="1" height="22" fill="#a0a0a0" />
<rect x="610" y="0" width="1" height="21" fill="#fafafa" />
<rect x="915" y="0" width="1" height="22" fill="#a0a0a0" />
<rect x="916" y="0" width="1" height="21" fill="#fafafa" />
<rect x="1176" y="0" width="1" height="22" fill="#a0a0a0" />
<rect x="1177" y="0" width="1" height="21" fill="#fafafa" />
<rect x="1065" y="0" width="1" height="20" fill="#a0a0a0" />
<rect x="245" y="0" width="3" height="1" fill="#a6a6a6" />
<rect x="245" y="2" width="3" height="1" fill="#a6a6a6" />
<rect x="245" y="4" width="3" height="1" fill="#a6a6a6" />
<rect x="245" y="6" width="3" height="1" fill="#a6a6a6" />
<rect x="245" y="8" width="3" height="1" fill="#a6a6a6" />
<rect x="245" y="10" width="3" height="1" fill="#a6a6a6" />
<rect x="245" y="12" width="3" height="1" fill="#a6a6a6" />
<rect x="245" y="14" width="3" height="1" fill="#a6a6a6" />
<rect x="245" y="16" width="3" height="1" fill="#a6a6a6" />
<rect x="245" y="18" width="3" height="1" fill="#a6a6a6" />
<rect x="613" y="0" width="3" height="1" fill="#a6a6a6" />
<rect x="613" y="2" width="3" height="1" fill="#a6a6a6" />
<rect x="613" y="4" width="3" height="1" fill="#a6a6a6" />
<rect x="613" y="6" width="3" height="1" fill="#a6a6a6" />
<rect x="613" y="8" width="3" height="1" fill="#a6a6a6" />
<rect x="613" y="10" width="3" height="1" fill="#a6a6a6" />
<rect x="613" y="12" width="3" height="1" fill="#a6a6a6" />
<rect x="613" y="14" width="3" height="1" fill="#a6a6a6" />
<rect x="613" y="16" width="3" height="1" fill="#a6a6a6" />
<rect x="613" y="18" width="3" height="1" fill="#a6a6a6" />
<rect x="919" y="0" width="3" height="1" fill="#a6a6a6" />
<rect x="919" y="2" width="3" height="1" fill="#a6a6a6" />
<rect x="919" y="4" width="3" height="1" fill="#a6a6a6" />
<rect x="919" y="6" width="3" height="1" fill="#a6a6a6" />
<rect x="919" y="8" width="3" height="1" fill="#a6a6a6" />
<rect x="919" y="10" width="3" height="1" fill="#a6a6a6" />
<rect x="919" y="12" width="3" height="1" fill="#a6a6a6" />
<rect x="919" y="14" width="3" height="1" fill="#a6a6a6" />
<rect x="919" y="16" width="3" height="1" fill="#a6a6a6" />
<rect x="919" y="18" width="3" height="1" fill="#a6a6a6" />
<rect x="280" y="0" width="24" height="20" fill="#f8f8f8" />
<rect x="280" y="20" width="25" height="2" fill="#fdfdfd" />
<rect x="304" y="0" width="1" height="20" fill="#fdfdfd" />
<rect x="432" y="0" width="24" height="20" fill="#f8f8f8" />
<rect x="432" y="20" width="25" height="2" fill="#fdfdfd" />
<rect x="456" y="0" width="1" height="20" fill="#fdfdfd" />
<rect x="460" y="0" width="24" height="20" fill="#f8f8f8" />
<rect x="460" y="20" width="25" height="2" fill="#fdfdfd" />
<rect x="484" y="0" width="1" height="20" fill="#fdfdfd" />
<rect x="620" y="0" width="24" height="20" fill="#f8f8f8" />
<rect x="620" y="20" width="25" height="2" fill="#fdfdfd" />
<rect x="644" y="0" width="1" height="20" fill="#fdfdfd" />
<rect x="1066" y="0" width="24" height="20" fill="#f8f8f8" />
<rect x="1066" y="20" width="25" height="2" fill="#fdfdfd" />
<rect x="1090" y="0" width="1" height="20" fill="#fdfdfd" />
</g>
<path d="M16.2 2.6 h7.3 l3 3 v9 q0 1 -1 1 h-9.3 q-1 0 -1 -1 v-11 q0 -1 1 -1z" fill="#fff" stroke="#777" stroke-width="1"/>
<path d="M23.5 2.6 v3 h3" fill="#e8e8e8" stroke="#777" stroke-width="0.8"/>
<rect x="17" y="4.3" width="2.8" height="1.3" fill="#9a9a9a" />
<rect x="17" y="8" width="8" height="0.9" fill="#a8a8a8" />
<rect x="17" y="10" width="5" height="0.9" fill="#a8a8a8" />
<rect x="17" y="12" width="2.2" height="0.9" fill="#a8a8a8" />
<path d="M23 8 h4 v4 h4 v4 h-4 v4 h-4 v-4 h-4 v-4 h4z" fill="#009a18" shape-rendering="crispEdges"/>
<path d="M24 9 h2 v4 h4 v2 h-4 v4 h-2 v-4 h-4 v-2 h4z" fill="url(#gPlus)" shape-rendering="crispEdges"/>
<text x="33.4" y="12.9" font-size="12" fill="#000" textLength="36.5" lengthAdjust="spacingAndGlyphs" style="font-family:'Liberation Sans','Noto Sans CJK SC',sans-serif">新订单</text>
<path d="M87.3 2.8 C86.6 5.4 84 9.4 82 11.8 L82.2 12.8 L89.6 17.9 L97.9 12.9 L98.3 11.3 Z" fill="#a87018"/>
<path d="M87.7 4.2 C87 6.4 85 9.4 83.5 11.2 L90.3 15.6 L96.8 11.1 Z" fill="url(#gGold)"/>
<path d="M87.4 6.2 C86.8 7.8 85.8 9.2 84.8 10.6 L88.6 12.6 L91.6 8.6 Z" fill="#fff6b0" opacity="0.55"/>
<path d="M90.3 15.6 L96.8 11.1 L96.9 12.4 L90 16.9 Z" fill="#efe6c0"/>
<path d="M83.5 11.2 L90.3 15.6 L90 16.9 L83 12.3 Z" fill="#d49a1c"/>
<path d="M112.3 3.2 L116 2.1 L123.2 3.6 L123.2 11 L112.3 11 Z" fill="url(#gBlueBox)"/>
<path d="M112.3 3.2 L116.2 4.6 L123.2 3.6 L116 2.1Z" fill="#2cb0ff"/>
<path d="M116.2 4.6 V11" stroke="#e8f4ff" stroke-width="0.8" fill="none"/>
<path d="M116.9 6.8 L122 5.8 V7 L116.9 8Z" fill="#f4faff"/>
<path d="M112.2 17.3 C109.4 17.3 109.4 13.4 112 13.2 C111.8 11 114.6 10.6 115.6 12 C116.2 8.8 121 8.6 121.6 11.4 C123.4 10.2 125.6 11.6 124.8 13.4 C127 13.8 126.8 17.3 124.2 17.3 Z" fill="url(#gCloud)" stroke="#4868a8" stroke-width="0.9"/>
<path d="M146 9.8 L146 17.8 A8 8 0 1 0 143.26 2.28 Z" fill="url(#gSig)" opacity="0.9"/>
<path d="M146 14.8 A5 5 0 0 1 144.29 5.10" fill="none" stroke="#4070d8" stroke-width="1" opacity="0.75"/>
<path d="M146 14.8 A5 5 0 1 0 144.29 5.10" fill="none" stroke="#5c9c6c" stroke-width="0.9" opacity="0.45"/>
<path d="M146 17.5 A7.7 7.7 0 0 1 143.37 2.56" fill="none" stroke="#4070d8" stroke-width="1" opacity="0.6"/>
<path d="M146 17.5 A7.7 7.7 0 1 0 143.37 2.56" fill="none" stroke="#5c9c6c" stroke-width="0.9" opacity="0.45"/>
<circle cx="146" cy="9.600000000000001" r="1.8" fill="#2858d0"/>
<rect x="146" y="9.8" width="1.2" height="8" fill="#28a828" />
<path d="M165.8 9.2 L181 8.4 L173.2 17.8 L171.4 17.2 Z" fill="url(#gYel)" stroke="#c89818" stroke-width="0.6"/>
<path d="M165.6 7.4 C166.4 5.4 169 6.4 173 6.2 C177 6 179.6 4.2 181 5.6 C181.4 7.6 177.6 9.4 173.4 9.4 C169.4 9.4 165.4 9.2 165.6 7.4 Z" fill="url(#gHat)" stroke="#2888b8" stroke-width="0.7"/>
<path d="M169.4 6.8 C169.2 0.6 176.8 0.6 176.8 6.2 C175 7.2 171 7.4 169.4 6.8 Z" fill="url(#gHat)" stroke="#2888b8" stroke-width="0.7"/>
<circle cx="177.6" cy="13.7" r="4.2" fill="url(#gRed)"/>
<rect x="176.1" y="12.2" width="3" height="3" fill="#fff" />
<text x="186.3" y="12.9" font-size="12" fill="#000" textLength="48.6" lengthAdjust="spacingAndGlyphs" style="font-family:'Liberation Sans','Noto Sans CJK SC',sans-serif">自动交易</text>
<g fill="#5a5a5a" shape-rendering="crispEdges">
<rect x="259" y="4" width="1" height="14" fill="#5a5a5a" />
<rect x="257" y="15" width="14" height="1" fill="#5a5a5a" />
</g>
<path d="M257.8 5.8 L259.5 3.7 L261.2 5.8 Z M269.2 13.8 L271.3 15.5 L269.2 17.2 Z" fill="#5a5a5a"/>
<g shape-rendering="crispEdges">
<rect x="265" y="5" width="1" height="9" fill="#009000" />
<rect x="266" y="6" width="2" height="1" fill="#009000" />
<rect x="263" y="12" width="2" height="1" fill="#009000" />
</g>
<g fill="#5a5a5a" shape-rendering="crispEdges">
<rect x="287" y="4" width="1" height="14" fill="#5a5a5a" />
<rect x="285" y="15" width="14" height="1" fill="#5a5a5a" />
</g>
<path d="M285.8 5.8 L287.5 3.7 L289.2 5.8 Z M297.2 13.8 L299.3 15.5 L297.2 17.2 Z" fill="#5a5a5a"/>
<rect x="293" y="2" width="1" height="12" fill="#00a000" shape-rendering="crispEdges"/>
<rect x="291.5" y="4.5" width="4" height="7" fill="url(#gCandle)" stroke="#00a000" stroke-width="1"/>
<g fill="#5a5a5a" shape-rendering="crispEdges">
<rect x="315" y="4" width="1" height="14" fill="#5a5a5a" />
<rect x="313" y="15" width="14" height="1" fill="#5a5a5a" />
</g>
<path d="M313.8 5.8 L315.5 3.7 L317.2 5.8 Z M325.2 13.8 L327.3 15.5 L325.2 17.2 Z" fill="#5a5a5a"/>
<path d="M314.2 12.8 C316.5 11.5 318 7.4 320.3 7.4 C322.2 7.4 323.4 10.6 325.8 11.3" fill="none" stroke="#2ca02c" stroke-width="1.2"/>
<path d="M355.1 12.4 L360.70000000000005 17" stroke="#b07a10" stroke-width="3.2" stroke-linecap="butt"/>
<path d="M355.5 12.7 L360.3 16.7" stroke="#f0d840" stroke-width="1.7" stroke-linecap="butt"/>
<circle cx="351.1" cy="8.1" r="5.5" fill="url(#gLens)" stroke="#3478c8" stroke-width="1.4"/>
<rect x="347.5" y="7.1" width="7.2" height="1.9" fill="#4a92ba" />
<rect x="350.1" y="4.6" width="2" height="6.9" fill="#4a92ba" />
<path d="M382.9 12.4 L388.5 17" stroke="#b07a10" stroke-width="3.2" stroke-linecap="butt"/>
<path d="M383.29999999999995 12.7 L388.09999999999997 16.7" stroke="#f0d840" stroke-width="1.7" stroke-linecap="butt"/>
<circle cx="378.9" cy="8.1" r="5.5" fill="url(#gLens)" stroke="#3478c8" stroke-width="1.4"/>
<rect x="375.29999999999995" y="7.1" width="7.2" height="1.9" fill="#4a92ba" />
<rect x="401" y="2" width="8" height="8" fill="#3aa018" />
<rect x="401" y="2" width="8" height="1.2" fill="#2c8a10" />
<rect x="402" y="3.2" width="0.9" height="0.9" fill="#fff" />
<path d="M402.1 5.3 h5.7 v3.9 h-1.2 v-1.1 h-3.3 v1.1 h-1.2z" fill="#fff"/>
<rect x="403.1" y="6.2" width="3.7" height="0.8" fill="#3aa018" opacity="0.4"/>
<rect x="409" y="2" width="8" height="8" fill="#2458d8" />
<rect x="409" y="2" width="8" height="1.2" fill="#1840b8" />
<rect x="410" y="3.2" width="0.9" height="0.9" fill="#fff" />
<path d="M410.1 5.3 h5.7 v3.9 h-1.2 v-1.1 h-3.3 v1.1 h-1.2z" fill="#fff"/>
<rect x="411.1" y="6.2" width="3.7" height="0.8" fill="#2458d8" opacity="0.4"/>
<rect x="401" y="10" width="8" height="8" fill="#2458d8" />
<rect x="401" y="10" width="8" height="1.2" fill="#1840b8" />
<rect x="402" y="11.2" width="0.9" height="0.9" fill="#fff" />
<path d="M402.1 13.3 h5.7 v3.9 h-1.2 v-1.1 h-3.3 v1.1 h-1.2z" fill="#fff"/>
<rect x="403.1" y="14.2" width="3.7" height="0.8" fill="#2458d8" opacity="0.4"/>
<rect x="409" y="10" width="8" height="8" fill="#3aa018" />
<rect x="409" y="10" width="8" height="1.2" fill="#2c8a10" />
<rect x="410" y="11.2" width="0.9" height="0.9" fill="#fff" />
<path d="M410.1 13.3 h5.7 v3.9 h-1.2 v-1.1 h-3.3 v1.1 h-1.2z" fill="#fff"/>
<rect x="411.1" y="14.2" width="3.7" height="0.8" fill="#3aa018" opacity="0.4"/>
<g fill="#5a5a5a" shape-rendering="crispEdges">
<rect x="439" y="4" width="1" height="14" fill="#5a5a5a" />
<rect x="437" y="15" width="14" height="1" fill="#5a5a5a" />
</g>
<path d="M437.8 5.8 L439.5 3.7 L441.2 5.8 Z M449.2 13.8 L451.3 15.5 L449.2 17.2 Z" fill="#5a5a5a"/>
<path d="M444.3 6.2 L444.3 12.9 L448.2 9.5 Z" fill="#70f090" stroke="#00a000" stroke-width="1" stroke-linejoin="round"/>
<g fill="#5a5a5a" shape-rendering="crispEdges">
<rect x="467" y="4" width="1" height="14" fill="#5a5a5a" />
<rect x="465" y="15" width="14" height="1" fill="#5a5a5a" />
</g>
<path d="M465.8 5.8 L467.5 3.7 L469.2 5.8 Z M477.2 13.8 L479.3 15.5 L477.2 17.2 Z" fill="#5a5a5a"/>
<rect x="473" y="4" width="1" height="10" fill="#1070b0" shape-rendering="crispEdges"/>
<path d="M474.3 9.5 L477 7 L477 9 L479.2 9 L479.2 10 L477 10 L477 12 Z" fill="#e05000"/>
<path d="M499.2 2.6 h7.3 l3 3 v9 q0 1 -1 1 h-9.3 q-1 0 -1 -1 v-11 q0 -1 1 -1z" fill="#fff" stroke="#777" stroke-width="1"/>
<path d="M506.5 2.6 v3 h3" fill="#e8e8e8" stroke="#777" stroke-width="0.8"/>
<text x="500.3" y="12.6" font-size="10" font-style="italic" font-family="Liberation Serif, serif" fill="#403828">f</text>
<path d="M506 8 h4 v4 h4 v4 h-4 v4 h-4 v-4 h-4 v-4 h4z" fill="#009a18" shape-rendering="crispEdges"/>
<path d="M507 9 h2 v4 h4 v2 h-4 v4 h-2 v-4 h-4 v-2 h4z" fill="url(#gPlus)" shape-rendering="crispEdges"/>
<path d="M519.8 9 h5.6 l-2.8 3.2z" fill="#000"/>
<circle cx="544" cy="10" r="6.8" fill="#f4f4f4" stroke="url(#gClock)" stroke-width="2.2"/>
<path d="M543.5 6.2 L544 10.2 L546.8 9.8" fill="none" stroke="#202020" stroke-width="1.35"/>
<circle cx="544.00" cy="5.40" r="0.45" fill="#707070"/>
<circle cx="546.30" cy="6.02" r="0.45" fill="#707070"/>
<circle cx="547.98" cy="7.70" r="0.45" fill="#707070"/>
<circle cx="548.60" cy="10.00" r="0.45" fill="#707070"/>
<circle cx="547.98" cy="12.30" r="0.45" fill="#707070"/>
<circle cx="546.30" cy="13.98" r="0.45" fill="#707070"/>
<circle cx="544.00" cy="14.60" r="0.45" fill="#707070"/>
<circle cx="541.70" cy="13.98" r="0.45" fill="#707070"/>
<circle cx="540.02" cy="12.30" r="0.45" fill="#707070"/>
<circle cx="539.40" cy="10.00" r="0.45" fill="#707070"/>
<circle cx="540.02" cy="7.70" r="0.45" fill="#707070"/>
<circle cx="541.70" cy="6.02" r="0.45" fill="#707070"/>
<path d="M558.7 9 h5.6 l-2.8 3.2z" fill="#000"/>
<rect x="575.5" y="3.3" width="15" height="13.4" rx="0.8" fill="#fff" stroke="#3478c8" stroke-width="1"/>
<rect x="576" y="3.8" width="14" height="2.4" fill="url(#gTitle)" />
<rect x="576.6" y="4.2" width="5" height="0.8" fill="#d8ecff" />
<rect x="576" y="11" width="14" height="1" fill="#5a94d4" />
<path d="M577 9.4 h1.8 l1.4 -1 h1 l1 -1 h1 l1 1 h2 l1.2 -1 h1.2" fill="none" stroke="#a02c0c" stroke-width="1.25"/>
<path d="M578 14.5 h1.4 l1.2 -1 h1 l1 1 h1.2 l2 -2.2 l1 0.6 l1.6 2" fill="none" stroke="#0c7c2c" stroke-width="1.25"/>
<path d="M597.8 9 h5.6 l-2.8 3.2z" fill="#000"/>
<path d="M627.1 2.8 L627.1 14 L629.7 11.6 L632 17 L633.9 16.2 L631.6 10.9 L635 10.5 Z" fill="#505050"/>
<g shape-rendering="crispEdges">
<rect x="659" y="3" width="1" height="6" fill="#404040" />
<rect x="659" y="12" width="1" height="6" fill="#404040" />
<rect x="652" y="10" width="6" height="1" fill="#404040" />
<rect x="661" y="10" width="6" height="1" fill="#404040" />
<rect x="659" y="10" width="1" height="1" fill="#707050" />
<rect x="693" y="4" width="1" height="13" fill="#484848" />
<rect x="716" y="10" width="12" height="1" fill="#484848" />
</g>
<path d="M743.6 17 L756 5" stroke="#484848" stroke-width="1.1"/>
<g stroke="#404040" fill="none"><path d="M769.6 11.7 L777.9 4" stroke-width="0.75"/><path d="M770.4 16.4 L783.2 4.3" stroke-width="0.9"/><path d="M774.9 16.8 L784.3 7.9" stroke-width="0.75"/>
<path d="M772.1 16.2 L772.7 9.8 M775.1 14.2 L775.7 7.8 M778.1 12.6 L778.7 6.2 M781.4 8.8 L782 2.2" stroke-width="1.15"/></g>
<path d="M781 14 h4 v1 h-2.8 v0.9 h2.4 v1 h-2.4 v0.9 h2.9 v1 h-4.1z" fill="#404040"/>
<g shape-rendering="crispEdges">
<rect x="799" y="3" width="1" height="1" fill="#404040" />
<rect x="801" y="3" width="1" height="1" fill="#404040" />
<rect x="803" y="3" width="1" height="1" fill="#404040" />
<rect x="805" y="3" width="1" height="1" fill="#404040" />
<rect x="807" y="3" width="1" height="1" fill="#404040" />
<rect x="809" y="3" width="1" height="1" fill="#404040" />
<rect x="811" y="3" width="1" height="1" fill="#404040" />
<rect x="799" y="6" width="1" height="1" fill="#404040" />
<rect x="801" y="6" width="1" height="1" fill="#404040" />
<rect x="803" y="6" width="1" height="1" fill="#404040" />
<rect x="805" y="6" width="1" height="1" fill="#404040" />
<rect x="807" y="6" width="1" height="1" fill="#404040" />
<rect x="809" y="6" width="1" height="1" fill="#404040" />
<rect x="811" y="6" width="1" height="1" fill="#404040" />
<rect x="799" y="10" width="1" height="1" fill="#404040" />
<rect x="801" y="10" width="1" height="1" fill="#404040" />
<rect x="803" y="10" width="1" height="1" fill="#404040" />
<rect x="805" y="10" width="1" height="1" fill="#404040" />
<rect x="807" y="10" width="1" height="1" fill="#404040" />
<rect x="809" y="10" width="1" height="1" fill="#404040" />
<rect x="811" y="10" width="1" height="1" fill="#404040" />
<rect x="799" y="14" width="1" height="1" fill="#404040" />
<rect x="801" y="14" width="1" height="1" fill="#404040" />
<rect x="803" y="14" width="1" height="1" fill="#404040" />
<rect x="805" y="14" width="1" height="1" fill="#404040" />
<rect x="807" y="14" width="1" height="1" fill="#404040" />
</g>
<path d="M809 14 h4 v1 h-2.8 v1 h2.4 v1 h-2.4 v1.8 h-1.2z" fill="#404040"/>
<text transform="translate(829.7 14.9) scale(0.92 1)" font-size="12" fill="#4a4a4a" stroke="#4a4a4a" stroke-width="0.25" font-family="Liberation Sans, sans-serif">A</text>
<g shape-rendering="crispEdges">
<rect x="857" y="4" width="1" height="1" fill="#404040" />
<rect x="859" y="4" width="1" height="1" fill="#404040" />
<rect x="861" y="4" width="1" height="1" fill="#404040" />
<rect x="863" y="4" width="1" height="1" fill="#404040" />
<rect x="865" y="4" width="1" height="1" fill="#404040" />
<rect x="867" y="4" width="1" height="1" fill="#404040" />
<rect x="856" y="16" width="1" height="1" fill="#404040" />
<rect x="858" y="16" width="1" height="1" fill="#404040" />
<rect x="860" y="16" width="1" height="1" fill="#404040" />
<rect x="862" y="16" width="1" height="1" fill="#404040" />
<rect x="864" y="16" width="1" height="1" fill="#404040" />
<rect x="866" y="16" width="1" height="1" fill="#404040" />
<rect x="856" y="6" width="1" height="1" fill="#404040" />
<rect x="856" y="8" width="1" height="1" fill="#404040" />
<rect x="856" y="10" width="1" height="1" fill="#404040" />
<rect x="856" y="12" width="1" height="1" fill="#404040" />
<rect x="856" y="14" width="1" height="1" fill="#404040" />
<rect x="856" y="16" width="1" height="1" fill="#404040" />
<rect x="867" y="6" width="1" height="1" fill="#404040" />
<rect x="867" y="8" width="1" height="1" fill="#404040" />
<rect x="867" y="10" width="1" height="1" fill="#404040" />
<rect x="867" y="12" width="1" height="1" fill="#404040" />
<rect x="867" y="14" width="1" height="1" fill="#404040" />
<rect x="855" y="3" width="2" height="1" fill="#404040" />
</g>
<path d="M858.3 7 h7.4 v1.3 h-2.9 v6.6 h-1.6 v-6.6 h-2.9z" fill="#505050"/>
<path d="M886.4 3.9 L890 7.9 L888 7.9 L888 8.9 L884.9 8.9 L884.9 7.9 L882.9 7.9 Z" fill="#505050"/>
<path d="M893.4 17.1 L897 13.2 L895 13.2 L895 12.2 L891.9 12.2 L891.9 13.2 L889.9 13.2 Z" fill="#505050"/>
<path d="M885 11.2 L887.5 13.7 L892 8.3" fill="none" stroke="#505050" stroke-width="1.3"/>
<path d="M903.8 9 h5.6 l-2.8 3.2z" fill="#000"/>
<g font-family="Liberation Sans, sans-serif" font-size="10" fill="#444" text-rendering="geometricPrecision">
<text x="930.6" y="14" textLength="13.0" lengthAdjust="spacingAndGlyphs">M1</text>
<text x="958.6" y="14" textLength="12.6" lengthAdjust="spacingAndGlyphs">M5</text>
<text x="984.6" y="14" textLength="17.8" lengthAdjust="spacingAndGlyphs">M15</text>
<text x="1012.4" y="14" textLength="17.8" lengthAdjust="spacingAndGlyphs">M30</text>
<text x="1043.8" y="14" textLength="11.8" lengthAdjust="spacingAndGlyphs">H1</text>
<text x="1070.7" y="14" textLength="12" lengthAdjust="spacingAndGlyphs">H4</text>
<text x="1099.9" y="14" textLength="11.6" lengthAdjust="spacingAndGlyphs">D1</text>
<text x="1127.2" y="14" textLength="14.2" lengthAdjust="spacingAndGlyphs">W1</text>
<text x="1153.7" y="14" textLength="14.6" lengthAdjust="spacingAndGlyphs">MN</text>
</g>
<path d="M1644 10.4 L1639.4 14.6" stroke="#2858d8" stroke-width="2.6" stroke-linecap="round"/>
<path d="M1643.2 10.2 L1639 14.1" stroke="#5a84f0" stroke-width="0.8" stroke-dasharray="0.8 0.8"/>
<circle cx="1646.7" cy="7.4" r="3.9" fill="#f6f6ff" stroke="#2858d8" stroke-width="1.3"/>
<path d="M1663 12.4 C1663 6 1674 6 1674 12.4 C1674 15.8 1670 16.6 1667.8 16.4 L1666 18.6 L1665.8 16 C1664 15.4 1663 14 1663 12.4 Z" fill="#e4e4ee" stroke="#a8a8a8" stroke-width="0.8"/>
<circle cx="1677.7" cy="7.2" r="8.3" fill="url(#gRed)"/>
<text x="1673.6" y="12" font-size="12" font-weight="bold" fill="#fff" font-family="Liberation Sans, sans-serif" text-rendering="geometricPrecision">1</text>
</svg>
</body></html>
